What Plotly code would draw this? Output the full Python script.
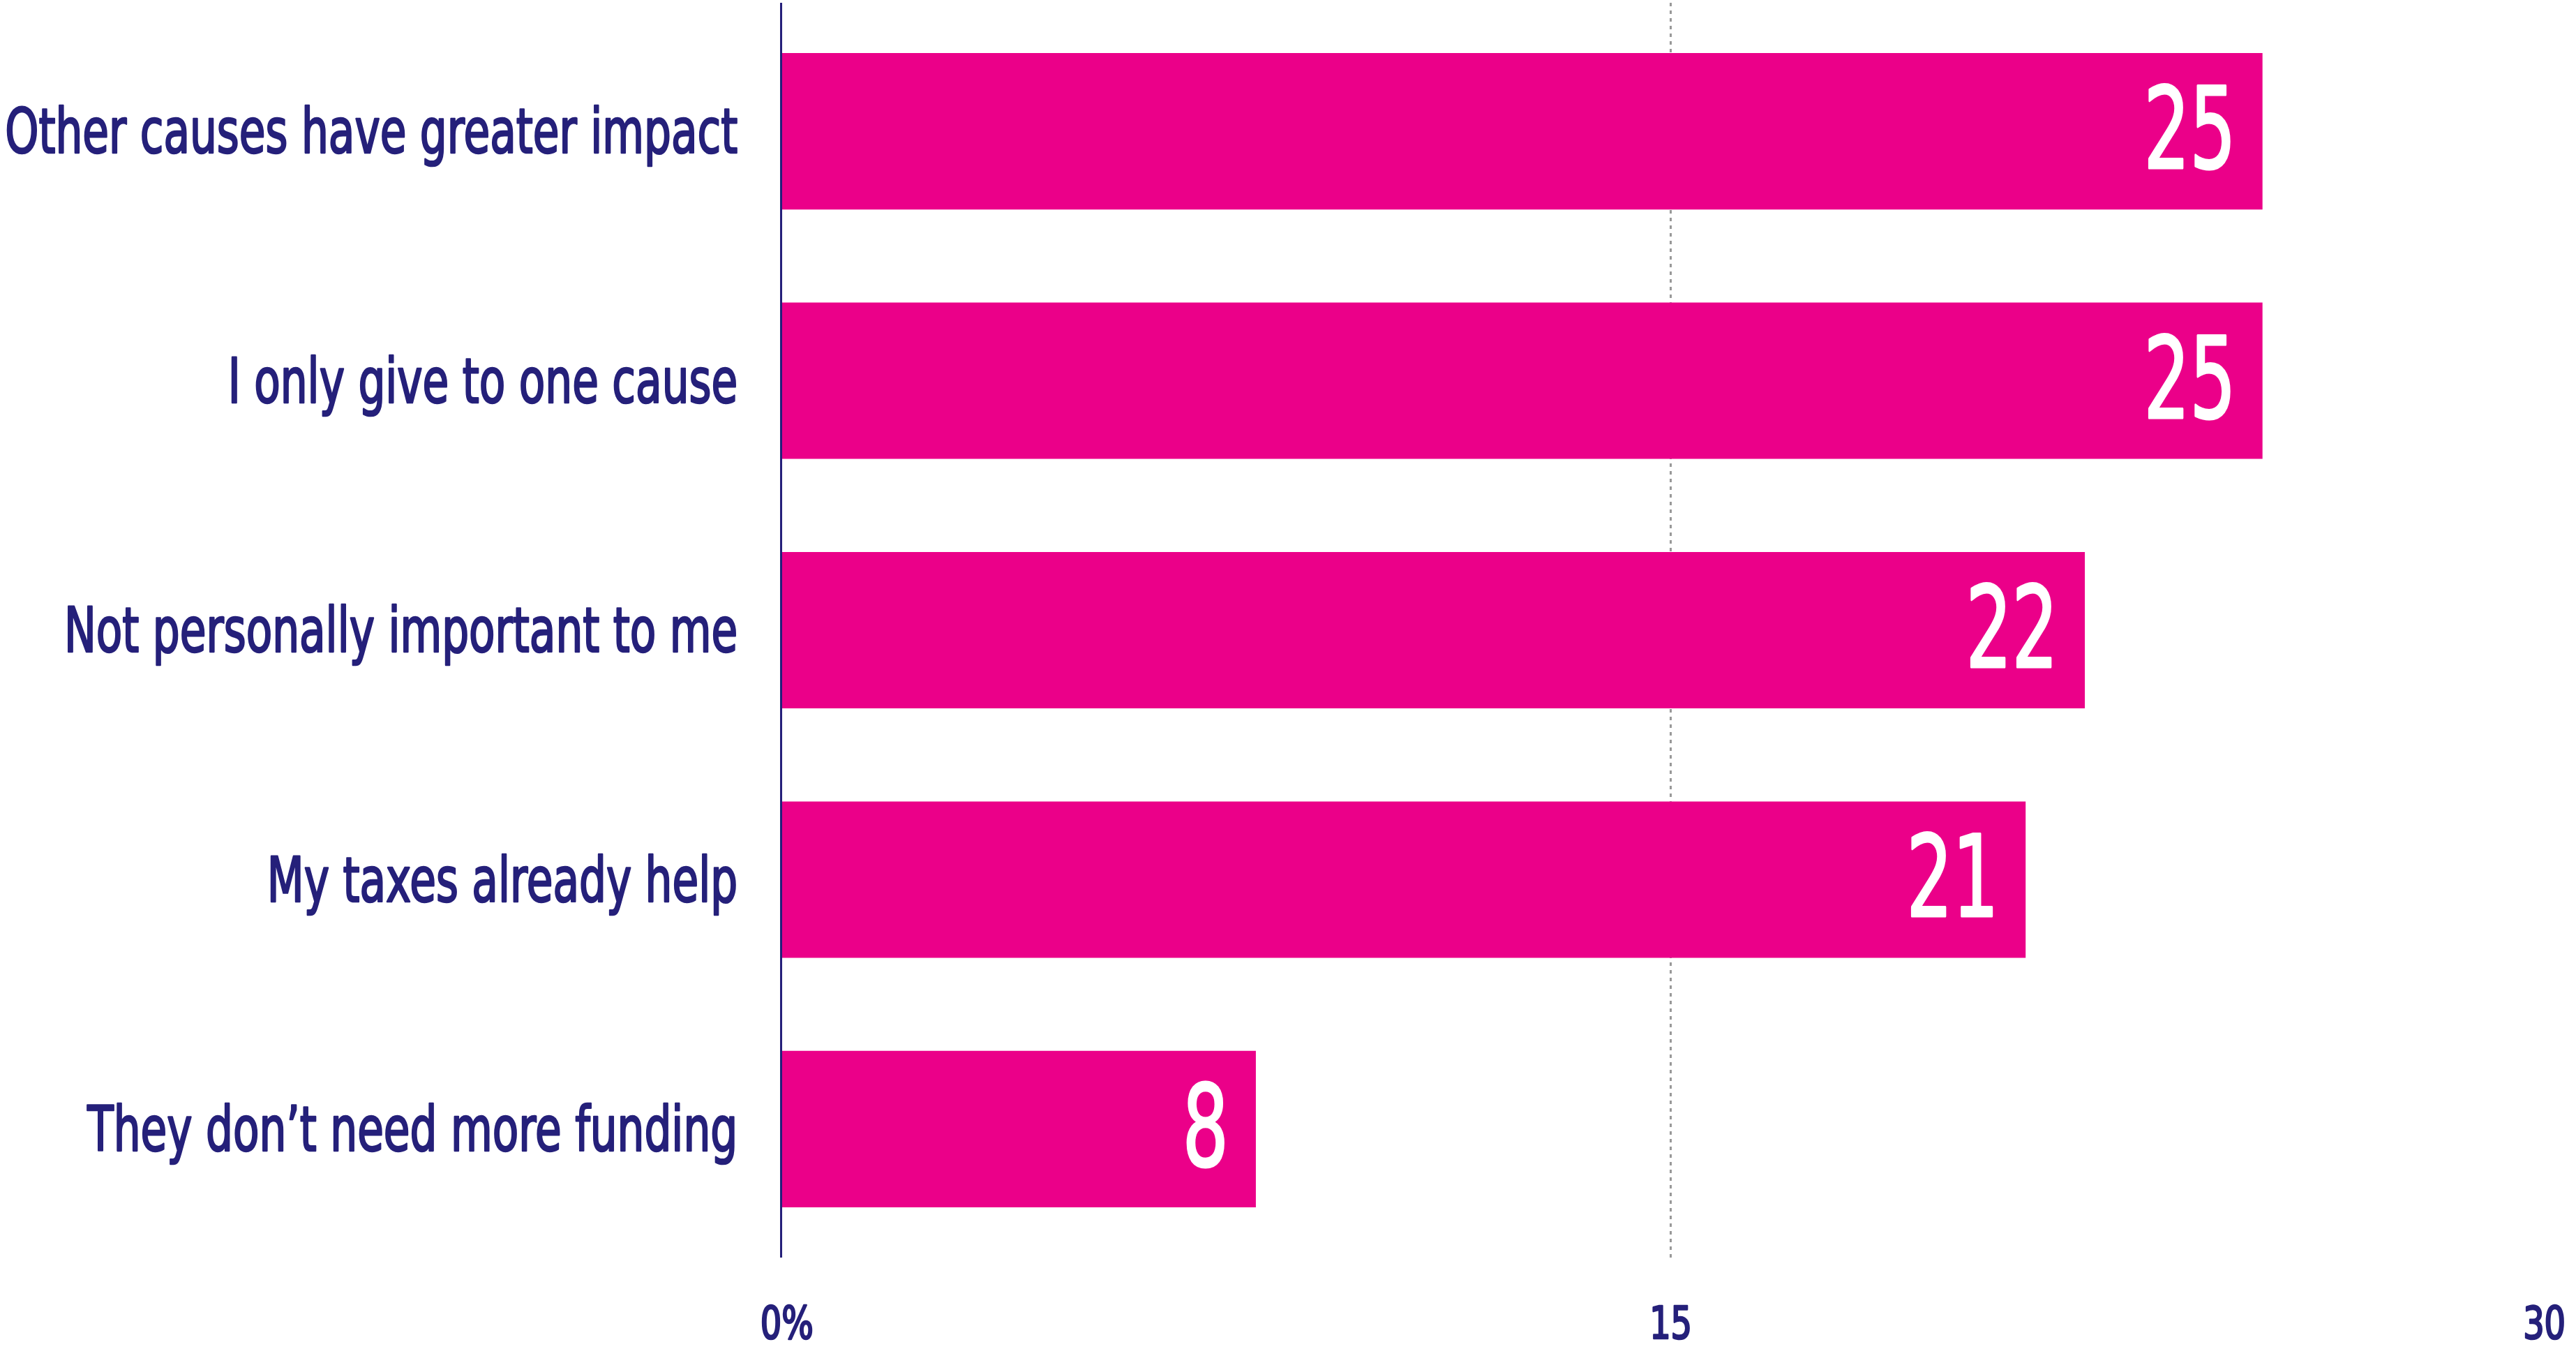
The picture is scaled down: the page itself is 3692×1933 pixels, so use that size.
import plotly.graph_objects as go

# Survey reasons and share of respondents (%)
reasons = [
    "Other causes have greater impact",
    "I only give to one cause",
    "Not personally important to me",
    "My taxes already help",
    "They don\u2019t need more funding",
]
shares = [25, 25, 22, 21, 8]

tick_values = [0, 15, 30]
tick_labels = ["0%", "15", "30"]

PINK = "#EB0089"
NAVY = "#25207A"
GRID = "#999999"
FONT = "DejaVu Sans Condensed, sans-serif"

W, H = 3692, 1933

fig = go.Figure(
    go.Bar(
        x=shares,
        y=reasons,
        orientation="h",
        marker=dict(color=PINK, line=dict(width=0)),
        hoverinfo="skip",
    )
)

# value labels inside the end of each bar
for r, v in zip(reasons, shares):
    fig.add_annotation(
        x=v, y=r, xref="x", yref="y",
        text=str(v), showarrow=False,
        xanchor="right", yanchor="middle", xshift=-37, yshift=3,
        font=dict(family=FONT, size=162, color="white"),
    )

# x tick labels below the plot
for tv, tl in zip(tick_values, tick_labels):
    shift = -21 if tv == tick_values[-1] else 6 if tv == 0 else 0
    fig.add_annotation(
        x=tv, y=0, xref="x", yref="paper",
        text=tl, showarrow=False,
        xanchor="center", yanchor="middle", yshift=-94, xshift=shift,
        font=dict(family=FONT, size=64, color=NAVY),
    )

fig.update_layout(
    width=W, height=H,
    margin=dict(l=1121, r=25, t=4, b=131),
    paper_bgcolor="white", plot_bgcolor="white",
    bargap=0.373,
    showlegend=False,
    font=dict(family=FONT, color=NAVY),
)

fig.update_xaxes(
    range=[0, 30],
    tickvals=tick_values,
    showticklabels=False,
    showgrid=True, gridcolor=GRID, gridwidth=3, griddash="5px,6px",
    zeroline=False, showline=False, ticks="",
    automargin=False,
)

fig.update_yaxes(
    range=[4.515, -0.515],
    showline=True, linecolor=NAVY, linewidth=3,
    showgrid=False, zeroline=False, ticks="",
    ticklabelstandoff=43,
    automargin=False,
    tickfont=dict(family=FONT, size=89, color=NAVY),
)

# narrow the glyphs horizontally to get a compressed typeface look;
# each text group is squeezed so its widest member reaches a set width,
# and a thin outline in the fill colour gives a medium weight
condense = """
var gd = document.getElementById('{plot_id}');
function squeeze(nodes, widest, keepRight, sw) {
  var lens = nodes.map(function(t){ return t.getComputedTextLength(); });
  var s = widest / Math.max.apply(null, lens);
  nodes.forEach(function(t, i){
    var L = lens[i];
    t.setAttribute('textLength', (L*s).toFixed(2));
    t.setAttribute('lengthAdjust', 'spacingAndGlyphs');
    if (keepRight) {
      var x = parseFloat(t.getAttribute('x'));
      t.setAttribute('x', (x + L*(1-s)/2).toFixed(2));
    }
    t.style.stroke = t.style.fill;
    t.style.strokeWidth = sw + 'px';
    t.style.strokeLinejoin = 'round';
  });
}
var yt = Array.prototype.slice.call(gd.querySelectorAll('.ytick text'));
var ann = Array.prototype.slice.call(gd.querySelectorAll('.annotation-text'));
var vals = ann.filter(function(t){ return parseFloat(t.style.fontSize) > 100; });
var ticks = ann.filter(function(t){ return parseFloat(t.style.fontSize) <= 100; });
squeeze(yt, 1050, false, 2.6);
squeeze(vals, 132, true, 3.2);
squeeze(ticks, 76, false, 2.6);
"""

fig.write_html("out.html", post_script=condense)
